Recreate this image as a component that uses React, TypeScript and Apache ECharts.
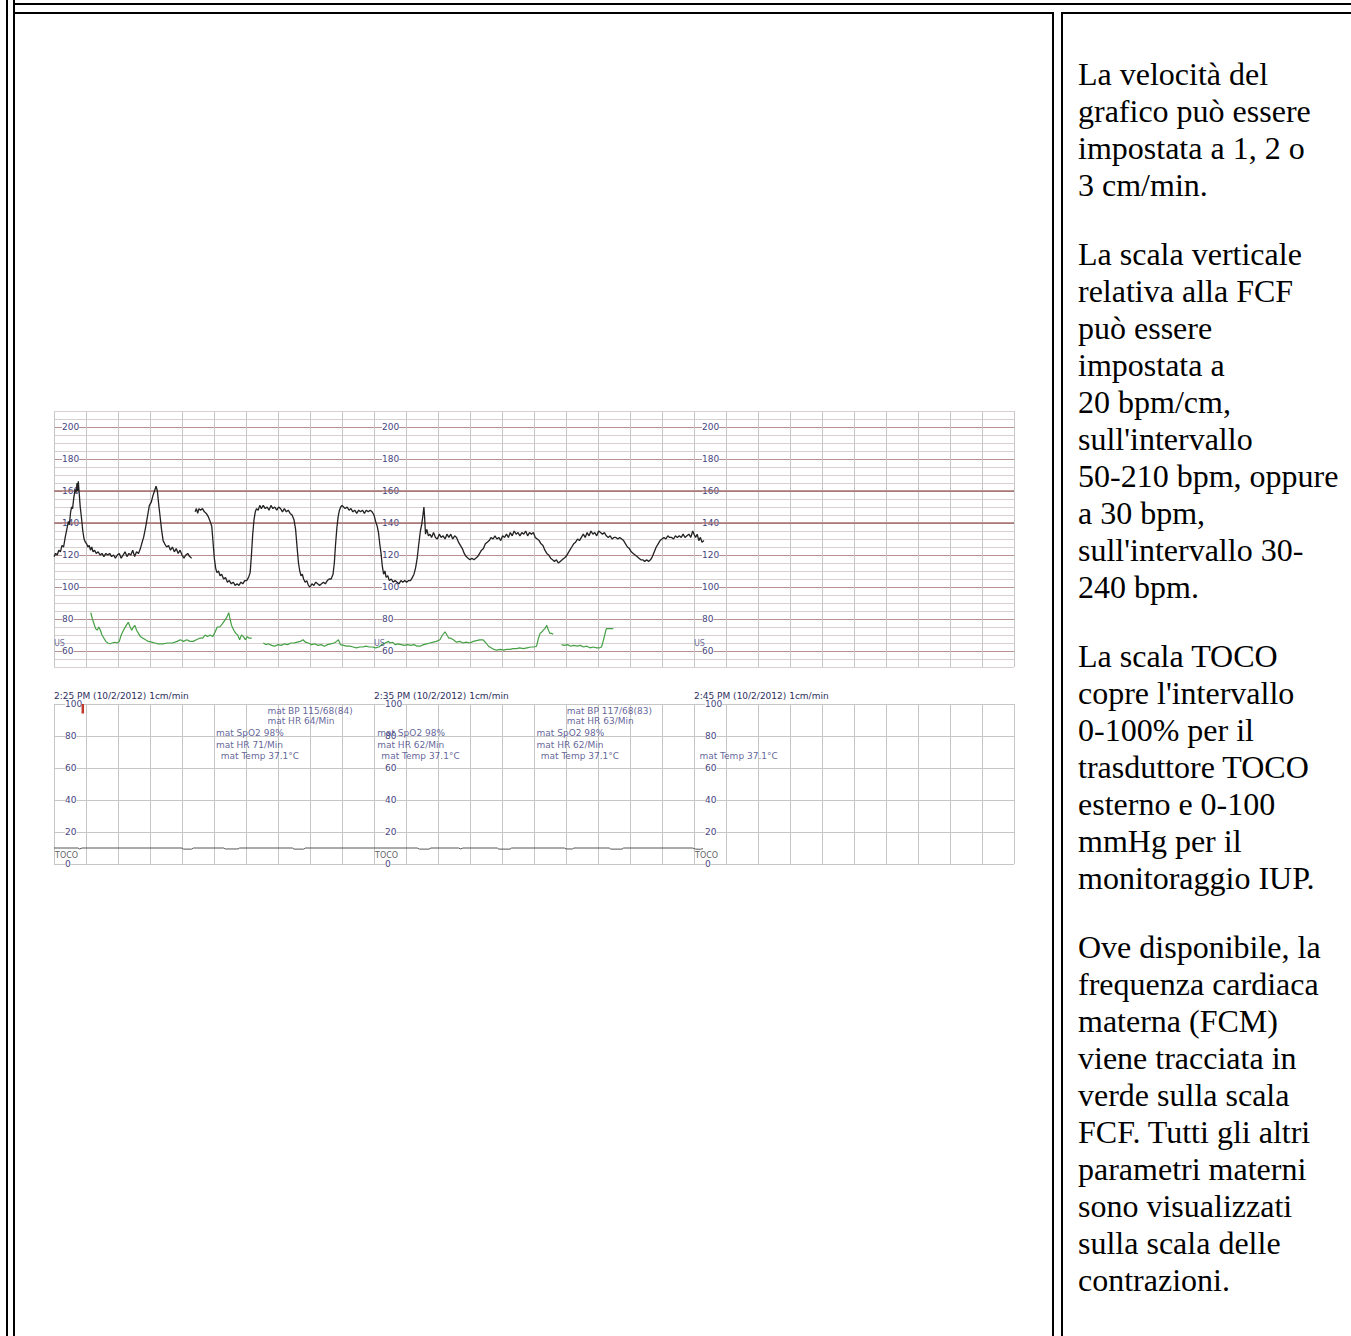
import React, { useEffect, useRef } from "react";
import * as echarts from "echarts";

// ---------- data (minutes from 2:25 PM, values) ----------
const timeLabels = [
  "2:25 PM (10/2/2012) 1cm/min",
  "2:35 PM (10/2/2012) 1cm/min",
  "2:45 PM (10/2/2012) 1cm/min",
];
const fhrTickLabels = [60, 80, 100, 120, 140, 160, 180, 200];
const tocoTickLabels = [0, 20, 40, 60, 80, 100];
const segmentStarts = [0, 10, 20];

const fhr: (number[] | null)[] = [
  [0.0, 119], [0.05, 121], [0.1, 120], [0.15, 123], [0.2, 122], [0.25, 126], [0.3, 125], [0.35, 131],
  [0.4, 136], [0.45, 141], [0.48, 139], [0.52, 147], [0.55, 150], [0.58, 149], [0.62, 156], [0.66, 161],
  [0.69, 159], [0.72, 165], [0.74, 160], [0.76, 166], [0.79, 158], [0.82, 150], [0.86, 143], [0.9, 135],
  [0.94, 130], [0.98, 128], [1.02, 127], [1.06, 125], [1.1, 126], [1.14, 123], [1.18, 125], [1.22, 122],
  [1.27, 123], [1.32, 121], [1.38, 122], [1.44, 120], [1.5, 121], [1.56, 119], [1.62, 121], [1.68, 120],
  [1.74, 121], [1.8, 119], [1.86, 120], [1.92, 118], [1.98, 120], [2.04, 121], [2.1, 118], [2.16, 120],
  [2.22, 122], [2.28, 119], [2.34, 121], [2.4, 120], [2.46, 123], [2.52, 119], [2.58, 122], [2.64, 121],
  [2.7, 124], [2.74, 127], [2.8, 131], [2.86, 137], [2.92, 144], [2.98, 151], [3.04, 153], [3.09, 157],
  [3.14, 160], [3.19, 163], [3.23, 160], [3.27, 152], [3.31, 145], [3.36, 136], [3.41, 129], [3.46, 127],
  [3.52, 125], [3.58, 126], [3.64, 123], [3.7, 125], [3.76, 122], [3.82, 124], [3.88, 121], [3.94, 123],
  [4.0, 120], [4.06, 118], [4.12, 120], [4.18, 121], [4.24, 119], [4.3, 118],
  null,
  [4.41, 147], [4.45, 149], [4.49, 146], [4.53, 149], [4.58, 148], [4.64, 149], [4.7, 147], [4.76, 146],
  [4.82, 144], [4.88, 141], [4.93, 138], [4.97, 128], [5.01, 118], [5.05, 112], [5.09, 109], [5.14, 110],
  [5.19, 107], [5.24, 108], [5.3, 105], [5.36, 106], [5.42, 103], [5.48, 104], [5.54, 102], [5.6, 103],
  [5.66, 101], [5.72, 102], [5.78, 101], [5.84, 103], [5.9, 102], [5.96, 104], [6.02, 104], [6.08, 106],
  [6.13, 109], [6.17, 120], [6.21, 133], [6.25, 142], [6.29, 147], [6.33, 149], [6.38, 148], [6.43, 151],
  [6.48, 149], [6.54, 151], [6.6, 149], [6.66, 150], [6.72, 148], [6.78, 151], [6.84, 149], [6.9, 150],
  [6.96, 148], [7.02, 150], [7.08, 149], [7.14, 147], [7.2, 149], [7.26, 147], [7.32, 148], [7.38, 146],
  [7.44, 145], [7.5, 142], [7.55, 136], [7.6, 124], [7.64, 115], [7.68, 110], [7.72, 107], [7.76, 108],
  [7.8, 105], [7.85, 103], [7.9, 104], [7.95, 101], [8.0, 100], [8.06, 102], [8.12, 101], [8.18, 103],
  [8.24, 102], [8.3, 101], [8.36, 102], [8.42, 103], [8.48, 102], [8.54, 104], [8.6, 105], [8.66, 105],
  [8.72, 108], [8.76, 115], [8.8, 127], [8.84, 137], [8.88, 144], [8.92, 148], [8.96, 150], [9.0, 151],
  [9.05, 150], [9.1, 149], [9.16, 150], [9.22, 148], [9.28, 149], [9.34, 147], [9.4, 148], [9.46, 146],
  [9.52, 148], [9.58, 147], [9.64, 148], [9.7, 146], [9.76, 148], [9.82, 147], [9.88, 148], [9.94, 147],
  [10.0, 145], [10.05, 141], [10.1, 138], [10.14, 134], [10.18, 127], [10.22, 121], [10.26, 113], [10.3, 108],
  [10.34, 110], [10.38, 106], [10.43, 107], [10.48, 104], [10.54, 105], [10.6, 103], [10.66, 104], [10.72, 103],
  [10.78, 102], [10.84, 104], [10.9, 103], [10.96, 104], [11.02, 103], [11.08, 104], [11.14, 104], [11.2, 106],
  [11.25, 108], [11.3, 112], [11.35, 118], [11.4, 127], [11.45, 135], [11.49, 139], [11.53, 145], [11.56, 150],
  [11.58, 144], [11.61, 133], [11.65, 136], [11.7, 132], [11.75, 133], [11.8, 131], [11.86, 134], [11.92, 131],
  [11.98, 130], [12.04, 133], [12.1, 131], [12.16, 132], [12.22, 130], [12.28, 133], [12.34, 131], [12.4, 133],
  [12.46, 130], [12.52, 132], [12.58, 131], [12.64, 128], [12.7, 126], [12.76, 124], [12.82, 121], [12.88, 119],
  [12.94, 118], [13.0, 117], [13.06, 118], [13.12, 117], [13.18, 118], [13.24, 119], [13.3, 121], [13.36, 123],
  [13.42, 124], [13.48, 127], [13.54, 128], [13.6, 129], [13.66, 131], [13.72, 130], [13.78, 132], [13.84, 130],
  [13.9, 131], [13.96, 129], [14.02, 132], [14.08, 131], [14.14, 133], [14.2, 131], [14.26, 134], [14.32, 132],
  [14.38, 135], [14.44, 133], [14.5, 134], [14.56, 132], [14.62, 134], [14.68, 133], [14.74, 135], [14.8, 132],
  [14.86, 134], [14.92, 133], [14.98, 134], [15.04, 131], [15.1, 130], [15.16, 129], [15.22, 127], [15.28, 126],
  [15.34, 123], [15.4, 121], [15.46, 120], [15.52, 118], [15.58, 117], [15.64, 116], [15.7, 117], [15.76, 115],
  [15.82, 116], [15.88, 117], [15.94, 118], [16.0, 119], [16.06, 121], [16.12, 123], [16.18, 125], [16.24, 127],
  [16.3, 128], [16.36, 130], [16.42, 129], [16.48, 131], [16.54, 133], [16.6, 131], [16.66, 134], [16.72, 132],
  [16.78, 135], [16.84, 133], [16.9, 134], [16.96, 132], [17.02, 135], [17.08, 134], [17.14, 133], [17.2, 134],
  [17.26, 132], [17.32, 131], [17.38, 132], [17.44, 130], [17.5, 131], [17.56, 131], [17.62, 130], [17.68, 131],
  [17.74, 130], [17.8, 129], [17.86, 127], [17.92, 125], [17.98, 124], [18.04, 122], [18.1, 121], [18.16, 120],
  [18.22, 119], [18.28, 118], [18.34, 117], [18.4, 117], [18.46, 116], [18.52, 117], [18.58, 116], [18.64, 117],
  [18.7, 119], [18.76, 122], [18.82, 125], [18.88, 127], [18.94, 129], [19.0, 130], [19.06, 131], [19.12, 130],
  [19.18, 132], [19.24, 131], [19.3, 131], [19.36, 130], [19.42, 132], [19.48, 131], [19.54, 132], [19.6, 131],
  [19.66, 133], [19.72, 131], [19.78, 132], [19.84, 133], [19.9, 131], [19.96, 135], [20.0, 133], [20.05, 131],
  [20.1, 133], [20.15, 129], [20.2, 131], [20.25, 128], [20.31, 129],
];

const mhr: (number[] | null)[] = [
  [1.15, 84], [1.2, 80], [1.25, 77], [1.3, 74], [1.35, 73], [1.4, 75], [1.45, 73], [1.5, 70], [1.56, 68],
  [1.62, 66], [1.68, 65], [1.75, 64.5], [1.82, 65], [1.9, 65.5], [1.98, 65], [2.04, 66], [2.1, 70], [2.15, 72],
  [2.2, 74], [2.26, 76], [2.32, 78], [2.38, 75], [2.43, 73], [2.48, 75], [2.53, 76], [2.58, 73], [2.64, 71],
  [2.7, 69], [2.78, 68], [2.86, 67], [2.95, 66], [3.05, 65.5], [3.15, 65], [3.25, 64.5], [3.4, 64.5], [3.55, 65],
  [3.7, 65], [3.85, 66], [3.95, 67], [4.05, 66], [4.15, 67], [4.25, 66], [4.35, 66], [4.45, 67], [4.55, 68],
  [4.65, 68], [4.72, 70], [4.8, 69], [4.88, 70], [4.96, 69], [5.04, 72], [5.1, 75], [5.18, 75], [5.26, 77],
  [5.33, 79], [5.4, 81], [5.46, 84], [5.5, 80], [5.55, 76], [5.62, 73], [5.68, 71], [5.74, 70], [5.8, 67],
  [5.86, 70], [5.92, 69], [5.98, 67], [6.04, 69], [6.1, 68], [6.18, 68],
  null,
  [6.54, 65], [6.62, 64], [6.7, 64.5], [6.8, 63.5], [6.9, 63], [7.0, 64], [7.1, 63.5], [7.2, 64.5], [7.3, 64],
  [7.4, 65], [7.5, 65], [7.6, 65.5], [7.7, 66], [7.78, 67], [7.86, 65.5], [7.95, 65], [8.05, 64], [8.15, 64.5],
  [8.25, 63.5], [8.35, 64], [8.45, 63], [8.55, 64], [8.65, 64.5], [8.75, 65], [8.83, 66], [8.89, 67], [8.95, 64],
  [9.05, 63.5], [9.15, 63], [9.25, 63], [9.35, 62.5], [9.45, 62], [9.56, 62.5], [9.65, 62.5], [9.75, 63],
  [9.85, 62.5], [9.95, 62.5], [10.05, 62], [10.15, 62.5], [10.25, 64], [10.35, 65], [10.45, 66], [10.5, 65],
  [10.58, 65.5], [10.66, 64], [10.75, 64.5], [10.85, 64], [10.95, 63.5], [11.05, 64], [11.15, 63.5], [11.25, 64],
  [11.35, 63], [11.44, 63], [11.55, 64], [11.65, 64.5], [11.75, 65], [11.85, 65.5], [11.95, 66], [12.06, 67],
  [12.14, 70], [12.22, 72], [12.28, 70], [12.34, 68], [12.4, 68], [12.48, 67], [12.58, 65.5], [12.68, 66],
  [12.78, 65], [12.88, 65.5], [13.0, 65], [13.1, 66], [13.2, 66.5], [13.3, 67], [13.41, 67], [13.5, 65],
  [13.58, 63], [13.66, 62], [13.75, 61], [13.83, 60.5], [13.95, 61], [14.05, 60.5], [14.15, 61], [14.25, 61],
  [14.35, 61.5], [14.45, 61.5], [14.55, 62], [14.67, 61.5], [14.78, 62], [14.9, 62.5], [15.0, 62.5], [15.08, 63],
  [15.14, 68], [15.19, 71], [15.25, 72], [15.29, 73], [15.34, 74], [15.4, 76], [15.45, 73], [15.5, 71],
  [15.55, 71], [15.6, 70.5],
  null,
  [15.86, 64], [15.95, 63.5], [16.05, 64], [16.15, 63], [16.23, 63.5], [16.35, 63], [16.45, 63.5], [16.55, 62.5],
  [16.65, 63], [16.75, 62], [16.85, 62.5], [16.96, 62], [17.05, 62], [17.11, 62.5], [17.16, 66], [17.21, 70],
  [17.26, 74], [17.35, 74], [17.48, 74],
];

const toco: number[][] = [
  [0, 10], [0.75, 10], [0.8, 9.4], [0.88, 10], [4.0, 10], [4.05, 9.3], [4.3, 9.3], [4.36, 10],
  [5.3, 10], [5.36, 9.4], [5.75, 9.4], [5.8, 10], [7.45, 10], [7.5, 9.3], [7.8, 9.3], [7.86, 10],
  [11.35, 10], [11.42, 9.3], [11.72, 9.3], [11.78, 10], [12.65, 10], [12.7, 9.4], [12.78, 10],
  [13.85, 10], [13.9, 9.3], [14.25, 9.3], [14.3, 10], [15.95, 10], [16.0, 9.4], [16.2, 9.4], [16.25, 10],
  [17.35, 10], [17.4, 9.3], [17.75, 9.3], [17.8, 10], [19.95, 10], [20.05, 9.3], [20.2, 9.2], [20.28, 9.6],
];

const eventMark: number[][] = [[0.9, 100], [0.9, 94]];

const annotations: (number | string)[][] = [
  [6.67, 95.8, "mat BP 115/68(84)"],
  [6.67, 89.4, "mat HR 64/Min"],
  [5.06, 82.0, "mat SpO2 98%"],
  [5.06, 74.6, "mat HR 71/Min"],
  [5.21, 67.2, "mat Temp 37.1°C"],
  [10.1, 82.0, "mat SpO2 98%"],
  [10.1, 74.6, "mat HR 62/Min"],
  [10.23, 67.2, "mat Temp 37.1°C"],
  [16.02, 95.8, "mat BP 117/68(83)"],
  [16.02, 89.4, "mat HR 63/Min"],
  [15.08, 82.0, "mat SpO2 98%"],
  [15.08, 74.6, "mat HR 62/Min"],
  [15.21, 67.2, "mat Temp 37.1°C"],
  [20.17, 67.2, "mat Temp 37.1°C"],
];

const paragraphs: string[][] = [
  ["La velocità del", "grafico può essere", "impostata a 1, 2 o", "3 cm/min."],
  [
    "La scala verticale", "relativa alla FCF", "può essere", "impostata a", "20 bpm/cm,",
    "sull'intervallo", "50-210 bpm, oppure", "a 30 bpm,", "sull'intervallo 30-", "240 bpm.",
  ],
  [
    "La scala TOCO", "copre l'intervallo", "0-100% per il", "trasduttore TOCO", "esterno e 0-100",
    "mmHg per il", "monitoraggio IUP.",
  ],
  [
    "Ove disponibile, la", "frequenza cardiaca", "materna (FCM)", "viene tracciata in", "verde sulla scala",
    "FCF. Tutti gli altri", "parametri materni", "sono visualizzati", "sulla scala delle", "contrazioni.",
  ],
];

// ---------- styles ----------
const CTG_FONT = "DejaVu Sans, Verdana, sans-serif";
const LABEL_COLOR = "#45457e";
const GRID_V = "#c6c6c6";
const MINOR_H = "#d8d0d0";
const MAJOR_H = "#b79090";

function CtgChart() {
  const ref = useRef<HTMLDivElement>(null);
  useEffect(() => {
    if (!ref.current) return;
    const chart = echarts.init(ref.current, null, { renderer: "svg" });

    const fhrFmt = (v: number) => (fhrTickLabels.includes(v) ? String(v) : "");
    const tocoFmt = (v: number) => (tocoTickLabels.includes(v) ? String(v) : "");
    const labelFor = (margin: number, formatter: (v: number) => string) => ({
      inside: true,
      margin,
      formatter,
      color: LABEL_COLOR,
      fontSize: 9,
      fontFamily: CTG_FONT,
      backgroundColor: "#fff",
    });
    const hiddenAxis = {
      axisLine: { show: false },
      axisTick: { show: false },
    };

    const fhrYAxes = segmentStarts.map((s, i) => ({
      type: "value",
      gridIndex: 0,
      position: "left",
      min: 50,
      max: 210,
      interval: 5,
      offset: -32 * s,
      ...hiddenAxis,
      splitLine:
        i === 0
          ? { show: true, lineStyle: { color: [MINOR_H, MINOR_H, MAJOR_H, MINOR_H], width: 1 } }
          : { show: false },
      axisLabel: labelFor(8, fhrFmt),
    }));
    const tocoYAxes = segmentStarts.map((s, i) => ({
      type: "value",
      gridIndex: 1,
      position: "left",
      min: 0,
      max: 100,
      interval: 20,
      offset: -32 * s,
      ...hiddenAxis,
      splitLine: i === 0 ? { show: true, lineStyle: { color: GRID_V, width: 1 } } : { show: false },
      axisLabel: labelFor(11, tocoFmt),
    }));

    const minuteAxis = (gridIndex: number) => ({
      type: "value",
      gridIndex,
      position: "bottom",
      min: 0,
      max: 30,
      interval: 1,
      ...hiddenAxis,
      axisLabel: { show: false },
      splitLine: { show: true, lineStyle: { color: GRID_V, width: 1 } },
    });

    chart.setOption({
      animation: false,
      grid: [
        { left: 14, top: 16, width: 960, height: 256 },
        { left: 14, top: 309, width: 960, height: 160 },
      ],
      xAxis: [
        minuteAxis(0),
        minuteAxis(1),
        {
          type: "value",
          gridIndex: 1,
          position: "top",
          min: 0,
          max: 30,
          interval: 10,
          ...hiddenAxis,
          splitLine: { show: false },
          axisLabel: {
            show: true,
            align: "left",
            margin: 4,
            color: "#2e2e5e",
            fontSize: 9,
            fontFamily: CTG_FONT,
            formatter: (v: number) => {
              const i = Math.round(v / 10);
              return v % 10 === 0 && i < timeLabels.length ? timeLabels[i] : "";
            },
          },
        },
      ],
      yAxis: [...fhrYAxes, ...tocoYAxes],
      series: [
        {
          type: "line",
          xAxisIndex: 0,
          yAxisIndex: 0,
          data: fhr,
          showSymbol: false,
          connectNulls: false,
          lineStyle: { color: "#222", width: 1.3 },
          z: 5,
          markLine: {
            silent: true,
            symbol: "none",
            label: { show: false },
            lineStyle: { color: "#a47070", width: 1.5, type: "solid" },
            data: [{ yAxis: 140 }, { yAxis: 160 }],
            z: 1,
          },
        },
        {
          type: "line",
          xAxisIndex: 0,
          yAxisIndex: 0,
          data: mhr,
          showSymbol: false,
          connectNulls: false,
          lineStyle: { color: "#45a045", width: 1.2 },
          z: 5,
        },
        {
          type: "scatter",
          xAxisIndex: 0,
          yAxisIndex: 0,
          data: segmentStarts.map((s) => [s, 64.5]),
          symbolSize: 0,
          label: {
            show: true,
            formatter: "US",
            position: "right",
            distance: 0,
            color: LABEL_COLOR,
            fontSize: 8,
            fontFamily: CTG_FONT,
          },
          z: 6,
        },
        {
          type: "line",
          xAxisIndex: 1,
          yAxisIndex: 3,
          data: toco,
          showSymbol: false,
          lineStyle: { color: "#555", width: 1 },
          z: 5,
        },
        {
          type: "line",
          xAxisIndex: 1,
          yAxisIndex: 3,
          data: eventMark,
          showSymbol: false,
          lineStyle: { color: "#c0392b", width: 2.5 },
          z: 5,
        },
        {
          type: "scatter",
          xAxisIndex: 1,
          yAxisIndex: 3,
          data: annotations,
          symbolSize: 0,
          label: {
            show: true,
            position: "right",
            distance: 0,
            formatter: (p: any) => p.data[2],
            color: "#3a3a80",
            fontSize: 9,
            fontFamily: CTG_FONT,
          },
          z: 6,
        },
        {
          type: "scatter",
          xAxisIndex: 1,
          yAxisIndex: 3,
          data: segmentStarts.map((s) => [s, 5.5]),
          symbolSize: 0,
          label: {
            show: true,
            formatter: "TOCO",
            position: "right",
            distance: 1,
            color: "#333",
            fontSize: 8,
            fontFamily: CTG_FONT,
          },
          z: 6,
        },
      ],
    });
    return () => chart.dispose();
  }, []);
  return (
    <div
      ref={ref}
      style={{ position: "absolute", left: 40, top: 395, width: 990, height: 490 }}
    />
  );
}

const line = (left: number, top: number, width: number, height: number, key: string) => (
  <div key={key} style={{ position: "absolute", left, top, width, height, background: "#000" }} />
);

export default function App() {
  return (
    <div
      style={{
        position: "absolute",
        left: 0,
        top: 0,
        width: 1351,
        height: 1336,
        overflow: "hidden",
        background: "#fff",
      }}
    >
      {line(6, 0, 2, 1336, "a")}
      {line(13, 0, 2, 1336, "b")}
      {line(13, 3, 1338, 2, "c")}
      {line(13, 12, 1041, 2, "d")}
      {line(1052, 12, 2, 1324, "e")}
      {line(1061, 12, 290, 2, "f")}
      {line(1061, 12, 2, 1324, "g")}
      <CtgChart />
      <div
        style={{
          position: "absolute",
          left: 1078,
          top: 24,
          fontFamily: "'Liberation Serif', 'Times New Roman', serif",
          fontSize: 32,
          color: "#000",
          whiteSpace: "nowrap",
        }}
      >
        {paragraphs.map((p, i) => (
          <p key={i} style={{ margin: "32px 0" }}>
            {p.map((l, j) => (
              <React.Fragment key={j}>
                {l}
                {j < p.length - 1 ? <br /> : null}
              </React.Fragment>
            ))}
          </p>
        ))}
      </div>
    </div>
  );
}
